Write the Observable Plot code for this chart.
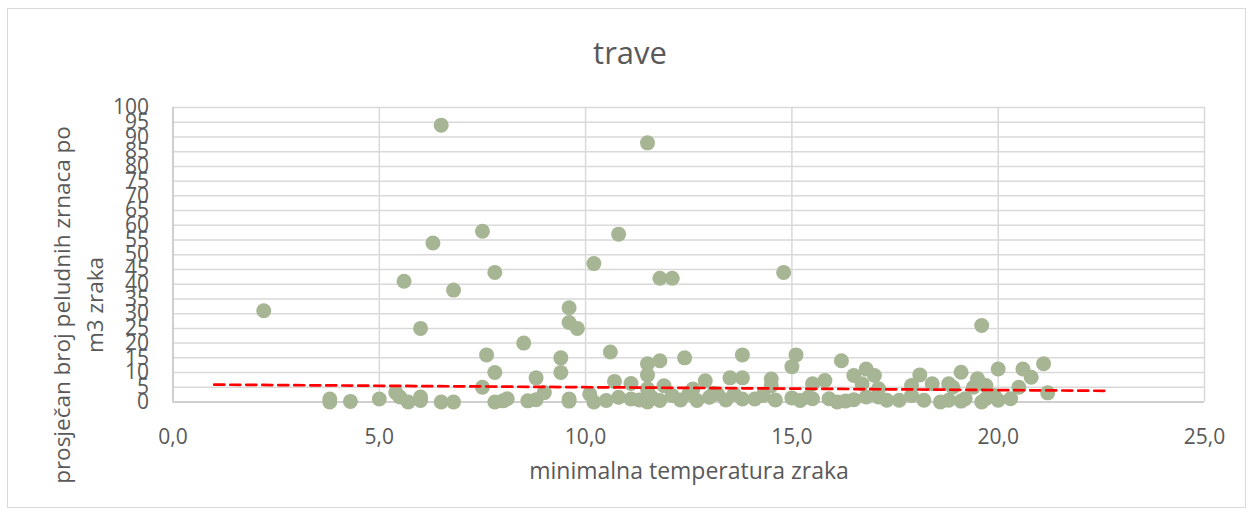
<!DOCTYPE html>
<html>
<head>
<meta charset="utf-8">
<script src="https://cdn.jsdelivr.net/npm/d3@7"></script>
<script src="https://cdn.jsdelivr.net/npm/@observablehq/plot@0.6"></script>
<style>
  html, body { margin: 0; padding: 0; background: #fff; }
  #chart svg { display: block; }
</style>
</head>
<body>
<div id="chart"></div>
<script>
// minimalna temperatura zraka (°C)
const temperature = [
  2.2, 3.8, 3.8, 4.3, 5.0, 5.4, 5.5, 5.6, 5.7, 6.0, 6.0, 6.0, 6.3, 6.5, 6.5, 6.8, 6.8,
  7.5, 7.5, 7.6, 7.8, 7.8, 7.8, 8.0, 8.1, 8.5, 8.6, 8.8, 8.8, 9.0, 9.4, 9.4, 9.6, 9.6,
  9.6, 9.6, 9.8, 10.1, 10.2, 10.2, 10.5, 10.6, 10.7, 10.8, 10.8, 11.1, 11.1, 11.3, 11.5,
  11.5, 11.5, 11.5, 11.5, 11.6, 11.8, 11.8, 11.8, 11.9, 12.1, 12.1, 12.3, 12.4, 12.5, 12.6,
  12.7, 12.9, 13.0, 13.1, 13.2, 13.4, 13.5, 13.6, 13.8, 13.8, 13.8, 14.1, 14.3, 14.5, 14.5,
  14.6, 14.8, 15.0, 15.0, 15.1, 15.2, 15.4, 15.5, 15.5, 15.8, 15.9, 16.1, 16.2, 16.3, 16.5,
  16.5, 16.7, 16.8, 16.8, 17.0, 17.1, 17.1, 17.3, 17.6, 17.9, 17.9, 18.1, 18.2, 18.4, 18.6,
  18.8, 18.8, 18.9, 19.1, 19.1, 19.2, 19.4, 19.5, 19.6, 19.6, 19.7, 19.7, 19.9, 20.0, 20.0,
  20.3, 20.5, 20.6, 20.8, 21.1, 21.2
];
// prosječan broj peludnih zrnaca po m3 zraka
const pollen = [
  31, 1.0, 0, 0.2, 1.0, 3.2, 1.7, 41, 0, 25, 1.7, 0.5, 54, 94, 0, 38, 0,
  58, 5, 16, 44, 10, 0, 0.4, 1.1, 20, 0.4, 8.2, 0.8, 3.2, 15, 10, 32, 27,
  1.0, 0.3, 25, 2.7, 47, 0, 0.5, 17, 7, 57, 1.6, 6.3, 1, 0.7, 88,
  13, 9.2, 4.5, 0, 1.6, 42, 14, 0.5, 5.5, 42, 2.2, 0.7, 15, 2.7, 4.4,
  0.5, 7.2, 1.6, 3, 2.7, 0.7, 8.2, 2.7, 16, 8.2, 1, 1, 2.2, 7.8, 5.5,
  0.7, 44, 12, 1.4, 16, 0.5, 1.6, 6.2, 1.1, 7.3, 1.1, 0, 14, 0.3, 9,
  0.8, 6.2, 11.2, 1.7, 9, 1.7, 4.5, 0.6, 0.6, 5.6, 2.2, 9.2, 0.6, 6.2, 0,
  6.2, 0.6, 5, 10.1, 0.3, 1.1, 5, 7.9, 26, 0, 5.6, 1.1, 2.2, 11.2, 0.6,
  1.1, 5, 11.2, 8.4, 13, 3.1
];
// linear trend line end points
const trendX = [1.0, 22.6];
const trendY = [5.9, 3.8];
const xTicks = [0, 5, 10, 15, 20, 25];
const yTicks = d3.range(0, 101, 5);

const titleText = "trave";
const xLabel = "minimalna temperatura zraka";
const yLabelLines = ["prosječan broj peludnih zrnaca po", "m3 zraka"];

const points = temperature.map((t, i) => ({t, p: pollen[i]}));
const trend = trendX.map((t, i) => ({t, p: trendY[i]}));

const W = 1253, H = 516;
const font = "'Open Sans', sans-serif";
const grey = "#595959";

const chart = Plot.plot({
  width: W,
  height: H,
  marginLeft: 172.5,
  marginRight: 49,
  marginTop: 107,
  marginBottom: 114.5,
  style: {fontFamily: font, fontSize: "21px", color: grey, background: "#fff"},
  x: {domain: [0, 25], ticks: xTicks, tickFormat: d => d.toFixed(1).replace(".", ","), label: null},
  y: {domain: [0, 100], ticks: yTicks, label: null},
  marks: [
    Plot.gridX(xTicks, {stroke: "#d9d9d9", strokeOpacity: 1, strokeWidth: 1.5}),
    Plot.gridY(yTicks, {stroke: "#d9d9d9", strokeOpacity: 1, strokeWidth: 1.5}),
    Plot.ruleX([0], {stroke: "#c8c8c8", strokeWidth: 1.5}),
    Plot.ruleY([0], {stroke: "#c8c8c8", strokeWidth: 1.5}),
    Plot.axisX(xTicks, {tickSize: 0, tickPadding: 27, fill: grey, fontSize: 21, label: null, tickFormat: d => d.toFixed(1).replace(".", ",")}),
    Plot.axisY(yTicks, {tickSize: 0, tickPadding: 24, fill: grey, fontSize: 21, label: null}),
    Plot.dot(points, {x: "t", y: "p", r: 7.5, fill: "#a6b593", stroke: "none"}),
    Plot.line(trend, {x: "t", y: "p", stroke: "#ff0000", strokeWidth: 2.7, strokeDasharray: "10,6"})
  ]
});

const svg = d3.select(chart);
// outer chart border
svg.insert("rect", ":first-child")
  .attr("x", 7.5).attr("y", 8.5).attr("width", W - 15).attr("height", H - 17)
  .attr("fill", "#fff").attr("stroke", "#d9d9d9").attr("stroke-width", 1);

svg.append("text")
  .attr("x", 630).attr("y", 64)
  .attr("text-anchor", "middle")
  .attr("fill", grey)
  .style("font-family", font).style("font-size", "31px")
  .text(titleText);

svg.append("text")
  .attr("x", 689).attr("y", 479)
  .attr("text-anchor", "middle")
  .attr("fill", grey)
  .style("font-family", font).style("font-size", "23px")
  .text(xLabel);

const yl = svg.append("text")
  .attr("transform", "translate(0,305) rotate(-90)")
  .attr("text-anchor", "middle")
  .attr("fill", grey)
  .style("font-family", font).style("font-size", "22.5px");
yLabelLines.forEach((line, i) => {
  yl.append("tspan").attr("x", 0).attr("y", 70 + i * 33).text(line);
});

document.getElementById("chart").appendChild(chart);
</script>
</body>
</html>
